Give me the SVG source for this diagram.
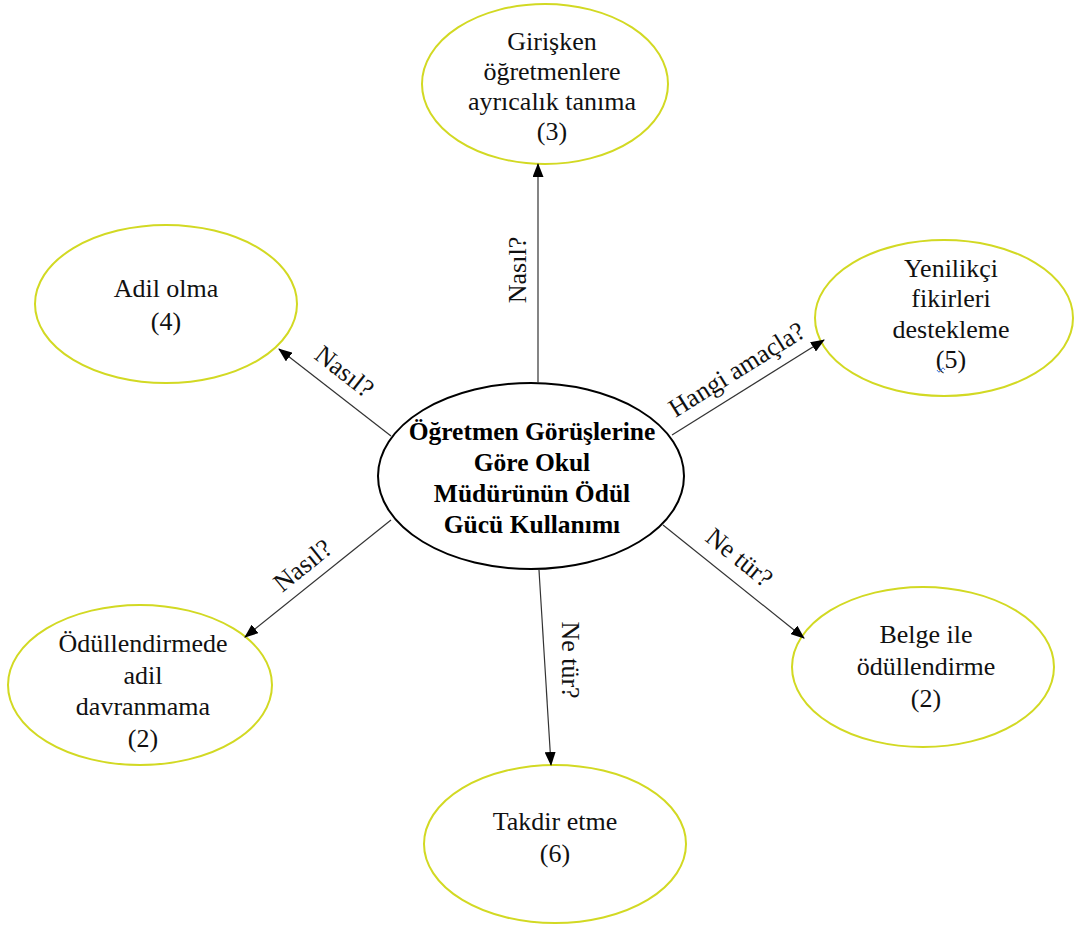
<svg xmlns="http://www.w3.org/2000/svg" width="1075" height="929" viewBox="0 0 1075 929">
  <style>
    .leaf { fill: #ffffff; stroke: #d2d923; stroke-width: 2; }
    .hub { fill: #ffffff; stroke: #000000; stroke-width: 2; }
    .edge { stroke: #333333; stroke-width: 1.2; fill: none; marker-end: url(#arrow); }
    text { font-family: "Liberation Serif", "Times New Roman", serif; font-size: 26px; fill: #111111; text-anchor: middle; }
    .bold { font-weight: bold; font-size: 25.5px; fill: #000000; }
  </style>
  <defs>
    <marker id="arrow" viewBox="0 0 14 11" refX="13" refY="5.5" markerWidth="14" markerHeight="11" markerUnits="userSpaceOnUse" orient="auto">
      <path d="M0,0 L14,5.5 L0,11 Z" fill="#000000"/>
    </marker>
  </defs>
  <rect width="1075" height="929" fill="#ffffff"/>

  <!-- central node -->
  <g id="node-center">
    <ellipse class="hub" cx="531" cy="476" rx="153" ry="93"/>
    <text class="bold" x="532" y="440">Öğretmen Görüşlerine</text>
    <text class="bold" x="532" y="471">Göre Okul</text>
    <text class="bold" x="532" y="502">Müdürünün Ödül</text>
    <text class="bold" x="532" y="533">Gücü Kullanımı</text>
  </g>

  <g id="node-girisken">
    <ellipse class="leaf" cx="545" cy="84" rx="123" ry="80"/>
    <text x="552" y="50">Girişken</text>
    <text x="552" y="80">öğretmenlere</text>
    <text x="552" y="110">ayrıcalık tanıma</text>
    <text x="552" y="140">(3)</text>
  </g>

  <g id="node-adil">
    <ellipse class="leaf" cx="166" cy="304" rx="131" ry="79"/>
    <text x="166" y="297">Adil olma</text>
    <text x="166" y="330">(4)</text>
  </g>

  <g id="node-yenilikci">
    <ellipse class="leaf" cx="944" cy="318" rx="129" ry="78"/>
    <text x="951" y="277">Yenilikçi</text>
    <text x="951" y="307">fikirleri</text>
    <text x="951" y="338">destekleme</text>
    <text x="951" y="368">(5)</text>
    <path d="M937,370 q2,4 4,0 t4,0" fill="none" stroke="#3a6fd8" stroke-width="1"/>
  </g>

  <g id="node-odullendirmede">
    <ellipse class="leaf" cx="140" cy="685" rx="132" ry="80"/>
    <text x="143" y="652">Ödüllendirmede</text>
    <text x="143" y="684">adil</text>
    <text x="143" y="715">davranmama</text>
    <text x="143" y="747">(2)</text>
  </g>

  <g id="node-belge">
    <ellipse class="leaf" cx="923" cy="667" rx="131" ry="80"/>
    <text x="926" y="643">Belge ile</text>
    <text x="926" y="675">ödüllendirme</text>
    <text x="926" y="707">(2)</text>
  </g>

  <g id="node-takdir">
    <ellipse class="leaf" cx="555" cy="844" rx="131" ry="79"/>
    <text x="555" y="830">Takdir etme</text>
    <text x="555" y="862">(6)</text>
  </g>

  <!-- connectors and their labels -->
  <g id="connectors">
    <line class="edge" x1="538" y1="383" x2="538" y2="164"/>
    <line class="edge" x1="391" y1="436" x2="279" y2="349"/>
    <line class="edge" x1="672" y1="435" x2="824" y2="340"/>
    <line class="edge" x1="391" y1="520" x2="245" y2="637"/>
    <line class="edge" x1="539" y1="570" x2="551" y2="765"/>
    <line class="edge" x1="663" y1="525" x2="804" y2="638"/>
    <g transform="translate(518,270) rotate(-90)"><text x="0" y="8">Nasıl?</text></g>
    <g transform="translate(344,372) rotate(38)"><text x="0" y="8">Nasıl?</text></g>
    <g transform="translate(737,370) rotate(-32)"><text x="0" y="8">Hangi amaçla?</text></g>
    <g transform="translate(303,566) rotate(-39)"><text x="0" y="8">Nasıl?</text></g>
    <g transform="translate(570,660) rotate(90)"><text x="0" y="8">Ne tür?</text></g>
    <g transform="translate(739,558) rotate(39)"><text x="0" y="8">Ne tür?</text></g>
  </g>
</svg>
